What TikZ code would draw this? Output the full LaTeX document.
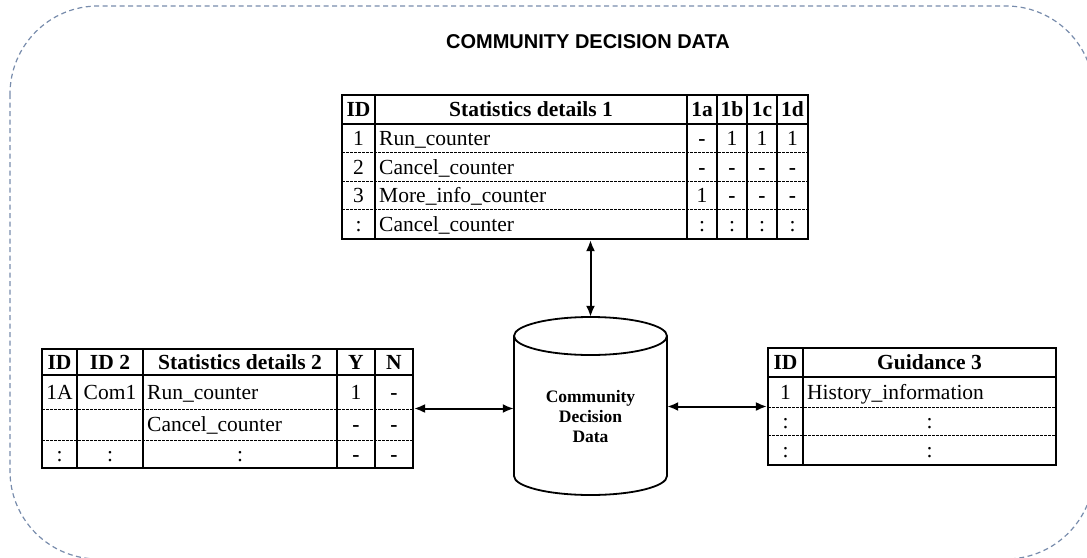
\documentclass[tikz,border=0pt]{standalone}
\usepackage{fontspec}
\setmainfont{Liberation Serif}
\newfontfamily\titlefont{Liberation Sans}
\usetikzlibrary{arrows.meta}

\definecolor{edgeblue}{RGB}{120,140,172}

\tikzset{
  frame/.style={draw, line width=2.2pt, inner sep=0pt},
  colline/.style={line width=2.2pt},
  rowline/.style={line width=0.9pt, dash pattern=on 2.5pt off 1.5pt},
  cell/.style={inner sep=0pt, text height=14pt, text depth=0pt, font=\fontsize{21.5}{24}\selectfont},
  head/.style={cell, font=\fontsize{21.5}{24}\selectfont\bfseries},
  nil/.style={cell, font=\fontsize{21.5}{24}\selectfont\bfseries},
  link/.style={{Latex[length=11pt,width=9pt]}-{Latex[length=11pt,width=9pt]}, line width=2pt}
}

\begin{document}
\begin{tikzpicture}[x=1pt, y=-1pt]

  \clip (0,0) rectangle (1087,557);

  % Outer frame
  \draw[edgeblue, line width=1.2pt, dash pattern=on 5pt off 3.5pt, rounded corners=88pt]
    (10,6) rectangle (1094,559);

  % Title
  \node[font={\titlefont\bfseries\fontsize{20}{24}\selectfont}] (title) at (588,42) {COMMUNITY DECISION DATA};

  % Table 1 (top)
  \node[frame, minimum width=466, minimum height=144] (T1) at (575,167) {};
  \draw[colline] (342,124) -- (808,124);
  \draw[colline] (375,95) -- (375,239);
  \draw[colline] (687,95) -- (687,239);
  \draw[colline] (717,95) -- (717,239);
  \draw[colline] (747,95) -- (747,239);
  \draw[colline] (777,95) -- (777,239);
  \draw[rowline] (342,152.5) -- (808,152.5);
  \draw[rowline] (342,181) -- (808,181);
  \draw[rowline] (342,209.5) -- (808,209.5);

  \node[head] (a-0-1) at (358.5,109.5) {ID};
  \node[head] (a-0-2) at (531,109.5) {Statistics details 1};
  \node[head] (a-0-3) at (702,109.5) {1a};
  \node[head] (a-0-4) at (732,109.5) {1b};
  \node[head] (a-0-5) at (762,109.5) {1c};
  \node[head] (a-0-6) at (792.5,109.5) {1d};

  \node[cell] (a-1-1) at (358.5,138) {1};
  \node[cell, anchor=west] (a-1-2) at (379,138) {Run\_counter};
  \node[nil] (a-1-3) at (702,138) {-};
  \node[cell] (a-1-4) at (732,138) {1};
  \node[cell] (a-1-5) at (762,138) {1};
  \node[cell] (a-1-6) at (792.5,138) {1};

  \node[cell] (a-2-1) at (358.5,167) {2};
  \node[cell, anchor=west] (a-2-2) at (379,167) {Cancel\_counter};
  \node[nil] (a-2-3) at (702,167) {-};
  \node[nil] (a-2-4) at (732,167) {-};
  \node[nil] (a-2-5) at (762,167) {-};
  \node[nil] (a-2-6) at (792.5,167) {-};

  \node[cell] (a-3-1) at (358.5,195) {3};
  \node[cell, anchor=west] (a-3-2) at (379,195) {More\_info\_counter};
  \node[cell] (a-3-3) at (702,195) {1};
  \node[nil] (a-3-4) at (732,195) {-};
  \node[nil] (a-3-5) at (762,195) {-};
  \node[nil] (a-3-6) at (792.5,195) {-};

  \node[cell] (a-4-1) at (358.5,224) {:};
  \node[cell, anchor=west] (a-4-2) at (379,224) {Cancel\_counter};
  \node[cell] (a-4-3) at (702,224) {:};
  \node[cell] (a-4-4) at (732,224) {:};
  \node[cell] (a-4-5) at (762,224) {:};
  \node[cell] (a-4-6) at (792.5,224) {:};

  % Table 2 (left)
  \node[frame, minimum width=371, minimum height=119] (T2) at (227.5,408.5) {};
  \draw[colline] (42,375) -- (413,375);
  \draw[colline] (77,349) -- (77,468);
  \draw[colline] (143,349) -- (143,468);
  \draw[colline] (337,349) -- (337,468);
  \draw[colline] (375,349) -- (375,468);
  \draw[rowline] (42,409) -- (413,409);
  \draw[rowline] (42,440) -- (413,440);

  \node[head] (b-0-1) at (59.5,362) {ID};
  \node[head] (b-0-2) at (110,362) {ID 2};
  \node[head] (b-0-3) at (240,362) {Statistics details 2};
  \node[head] (b-0-4) at (356,362) {Y};
  \node[head] (b-0-5) at (394,362) {N};

  \node[cell] (b-1-1) at (59.5,392) {1A};
  \node[cell] (b-1-2) at (110,392) {Com1};
  \node[cell, anchor=west] (b-1-3) at (147,392) {Run\_counter};
  \node[cell] (b-1-4) at (356,392) {1};
  \node[nil] (b-1-5) at (394,392) {-};

  \node[cell, anchor=west] (b-2-3) at (147,424.5) {Cancel\_counter};
  \node[nil] (b-2-4) at (356,424.5) {-};
  \node[nil] (b-2-5) at (394,424.5) {-};

  \node[cell] (b-3-1) at (59.5,454) {:};
  \node[cell] (b-3-2) at (110,454) {:};
  \node[cell] (b-3-3) at (240,454) {:};
  \node[nil] (b-3-4) at (356,454) {-};
  \node[nil] (b-3-5) at (394,454) {-};

  % Table 3 (right)
  \node[frame, minimum width=288, minimum height=117] (T3) at (912,406.5) {};
  \draw[colline] (768,377) -- (1056,377);
  \draw[colline] (803,348) -- (803,465);
  \draw[rowline] (768,407) -- (1056,407);
  \draw[rowline] (768,435) -- (1056,435);

  \node[head] (c-0-1) at (785.5,362.5) {ID};
  \node[head] (c-0-2) at (929.5,362.5) {Guidance 3};
  \node[cell] (c-1-1) at (785.5,392) {1};
  \node[cell, anchor=west] (c-1-2) at (807,392) {History\_information};
  \node[cell] (c-2-1) at (785.5,421) {:};
  \node[cell] (c-2-2) at (929.5,421) {:};
  \node[cell] (c-3-1) at (785.5,450) {:};
  \node[cell] (c-3-2) at (929.5,450) {:};

  % Database cylinder
  \node[minimum width=153, minimum height=178, inner sep=0pt] (DB) at (590.5,406) {};
  \draw[line width=1.8pt] (514,336) -- (514,476)
    arc[start angle=180, end angle=360, x radius=76.5pt, y radius=19pt] -- (667,336);
  \draw[line width=1.8pt] (590.5,336) ellipse [x radius=76.5pt, y radius=19pt];
  \node[align=center, font=\fontsize{17.5}{20}\selectfont\bfseries] (DBtext) at (590.5,417)
    {Community\\Decision\\Data};

  % Links
  \draw[link] (T1.south -| DB.north) -- (DB.north);
  \draw[link] (T2.east) -- (T2.east -| DB.west);
  \draw[link] (T3.west -| DB.east) -- (T3.west);

\end{tikzpicture}
\end{document}
